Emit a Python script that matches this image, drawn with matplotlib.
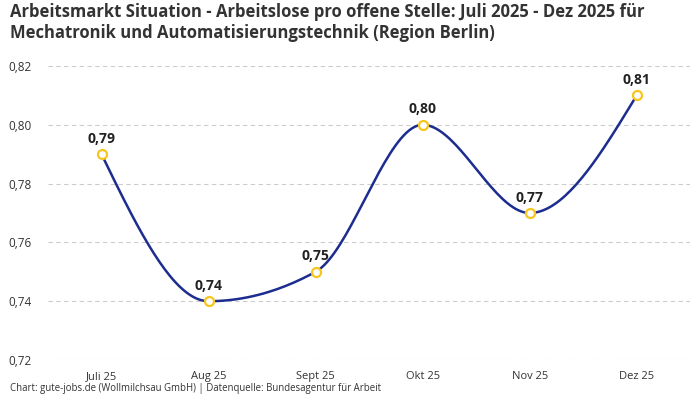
import numpy as np
import matplotlib
matplotlib.use("Agg")
import matplotlib.pyplot as plt

plt.rcParams['font.family'] = ['Open Sans', 'DejaVu Sans']

# Daten
monate = ["Juli 25", "Aug 25", "Sept 25", "Okt 25", "Nov 25", "Dez 25"]
werte = [0.79, 0.74, 0.75, 0.80, 0.77, 0.81]
y_ticks = [0.72, 0.74, 0.76, 0.78, 0.80, 0.82]

titel = ("Arbeitsmarkt Situation - Arbeitslose pro offene Stelle: Juli 2025 - Dez 2025 für\n"
         "Mechatronik und Automatisierungstechnik (Region Berlin)")
quelle = "Chart: gute-jobs.de (Wollmilchsau GmbH) | Datenquelle: Bundesagentur für Arbeit"


def monotone_kurve(x, y, n=40):
    # monotone kubische Interpolation (wie d3 curveMonotoneX)
    x = np.asarray(x, float)
    y = np.asarray(y, float)
    h = np.diff(x)
    s = np.diff(y) / h
    m = np.zeros(len(x))
    for i in range(1, len(x) - 1):
        p = (s[i - 1] * h[i] + s[i] * h[i - 1]) / (h[i - 1] + h[i])
        m[i] = (np.sign(s[i - 1]) + np.sign(s[i])) * min(abs(s[i - 1]), abs(s[i]), 0.5 * abs(p))
    m[0] = (3 * s[0] - m[1]) / 2
    m[-1] = (3 * s[-1] - m[-2]) / 2
    xs, ys = [], []
    for i in range(len(x) - 1):
        t = np.linspace(0, 1, n)
        h00 = 2 * t**3 - 3 * t**2 + 1
        h10 = t**3 - 2 * t**2 + t
        h01 = -2 * t**3 + 3 * t**2
        h11 = t**3 - t**2
        xs.append(x[i] + t * h[i])
        ys.append(h00 * y[i] + h10 * h[i] * m[i] + h01 * y[i + 1] + h11 * h[i] * m[i + 1])
    return np.concatenate(xs), np.concatenate(ys)


fig = plt.figure(figsize=(7, 4), dpi=100)
ax = fig.add_axes([0.0686, 0.1, 0.9174, 0.735])

pos = np.arange(len(monate))
kx, ky = monotone_kurve(pos, werte)
ax.plot(kx, ky, color="#1c2d8f", linewidth=1.8, zorder=3)
ax.plot(pos, werte, linestyle="none", marker="o", markersize=6.5,
        markerfacecolor="white", markeredgecolor="#f7c51e", markeredgewidth=1.6, zorder=4)

for xi, v in zip(pos, werte):
    ax.annotate(f"{v:.2f}".replace(".", ","), (xi, v), xytext=(0, 6), textcoords="offset points",
                ha="center", va="bottom", fontsize=10, fontweight="bold", color="#222222")

ax.set_xlim(-0.5, 5.5)
ax.set_ylim(0.72, 0.82)
ax.set_xticks(pos)
ax.set_xticklabels(monate)
ax.set_yticks(y_ticks)
ax.set_yticklabels([f"{t:.2f}".replace(".", ",") for t in y_ticks])
ax.tick_params(axis="both", length=0, labelcolor="#333333")
ax.tick_params(axis="x", pad=8, labelsize=8)
ax.tick_params(axis="y", pad=12, labelsize=8.5)
for sp in ax.spines.values():
    sp.set_visible(False)
ax.yaxis.grid(True, linestyle=(0, (4, 3)), color="#cccccc", linewidth=0.8)
ax.set_axisbelow(True)

fig.text(0.014, 0.992, titel, ha="left", va="top", fontsize=12, fontweight="bold",
         color="#333333", linespacing=1.2)
fig.text(0.014, 0.015, quelle, ha="left", va="bottom", fontsize=6.9, color="#333333")

fig.savefig("out.png", dpi=100)
